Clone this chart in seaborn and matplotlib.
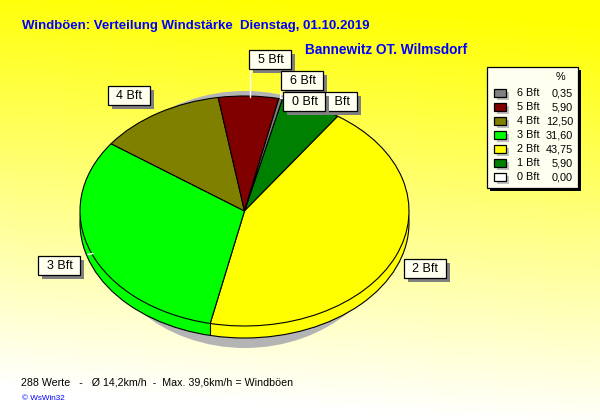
import matplotlib.pyplot as plt
import matplotlib.patches as mpatches
from matplotlib.transforms import Bbox, TransformedBbox
import numpy as np
import seaborn as sns

# values
bft_labels = ['0 Bft', '1 Bft', '2 Bft', '3 Bft', '4 Bft', '5 Bft', '6 Bft']
percent = [0.00, 5.90, 43.75, 31.60, 12.50, 5.90, 0.35]
bft_colors = ['#ffffff', '#008000', '#ffff00', '#00ff00', '#808000', '#800000', '#808080']

title = 'Windböen: Verteilung Windstärke  Dienstag, 01.10.2019'
station = 'Bannewitz OT. Wilmsdorf'
footer = '288 Werte   -   Ø 14,2km/h  -  Max. 39,6km/h = Windböen'
credit = '© WsWin32'

sns.set_theme(style='white')
plt.rcParams['font.family'] = ['Liberation Sans', 'DejaVu Sans']
palette = sns.color_palette(bft_colors)

W, H = 600, 420
fig = plt.figure(figsize=(W / 100, H / 100), dpi=100)

# background fade, yellow at the top to white at the bottom
bg = fig.add_axes([0, 0, 1, 1])
yy, xx = np.mgrid[0:1:210j, 0:1:300j]
fade = np.clip(yy * 1.03 - (xx - 0.5) * 0.1, 0, 1)
img = np.dstack([np.ones_like(fade), np.ones_like(fade), fade])
bg.imshow(img, extent=(0, W, H, 0), aspect='auto', interpolation='bilinear')
bg.set_xlim(0, W)
bg.set_ylim(H, 0)
bg.axis('off')
bg.add_patch(mpatches.Ellipse((245, 219.5), 300, 257, fc='#b4b4b4', ec='none'))

# pie, squashed into an ellipse
cx, cy, rx, ry = 244.5, 211, 164.5, 115
depth = 12
start = 76.7
pie_ax = fig.add_axes([(cx - rx) / W, 1 - (cy + ry) / H, 2 * rx / W, 2 * ry / H])

# rim: stacked copies without edges, then the lower outline
for d in range(depth, 0, -1):
    pie_ax.pie(percent, colors=palette, startangle=start, counterclock=False,
               center=(0, -d / ry),
               wedgeprops=dict(edgecolor='none', clip_on=False))
pie_ax.add_patch(mpatches.Ellipse((0, -depth / ry), 2, 2, fc='none', ec='black', lw=0.8, clip_on=False))

# vertical edge on the rim where 2 Bft meets 3 Bft
edge = np.radians(start - sum(percent[:3]) * 3.6)
pie_ax.plot([np.cos(edge)] * 2, [np.sin(edge), np.sin(edge) - depth / ry],
            color='black', lw=0.8, clip_on=False)

pie_ax.pie(percent, colors=palette, startangle=start, counterclock=False,
           wedgeprops=dict(edgecolor='black', linewidth=0.8, clip_on=False))
pie_ax.set_aspect('auto')
pie_ax.set_xlim(-1, 1)
pie_ax.set_ylim(-1, 1)

# everything else is placed in pixels
ov = fig.add_axes([0, 0, 1, 1])
ov.set_xlim(0, W)
ov.set_ylim(H, 0)
ov.axis('off')
ov.patch.set_alpha(0)

ov.text(22, 26.5, title, color='#0000ff', fontsize=9.55, fontweight='bold', va='center')
ov.text(305, 50, station, color='#0000ff', fontsize=9.8, fontweight='bold', va='center')
ov.text(21, 382.5, footer, color='black', fontsize=7.65, va='center')
ov.text(22, 398, credit, color='#0000ff', fontsize=5.9, va='center')

# white leader lines
for x0, y0, x1, y1 in [(249.5, 68, 249.5, 97), (281.5, 89, 280.5, 98), (283, 97.5, 280, 97.5),
                       (88, 254.5, 93, 253.5)]:
    ov.plot([x0, x1], [y0, y1], color='white', lw=1, zorder=2)

# callout boxes, 1 Bft sits under the 0 Bft box like in the original
boxes = {'4 Bft': (108, 86), '3 Bft': (38, 256), '2 Bft': (404, 259), '5 Bft': (249, 50),
         '6 Bft': (281, 71), '1 Bft': (315, 92), '0 Bft': (283, 92)}
z = 3
for lab, (x, y) in boxes.items():
    ov.add_patch(mpatches.Rectangle((x + 4, y + 4), 42, 19, fc='#808080', ec='none', zorder=z))
    ov.add_patch(mpatches.Rectangle((x, y), 42, 19, fc='#fffff0', ec='black', lw=0.9, zorder=z + 0.1))
    t = ov.text(x + 21.5, y + 10, lab, fontsize=9, color='black', ha='center', va='center', zorder=z + 0.2)
    if lab == '1 Bft':
        # only the part right of the 0 Bft shadow shows
        t.set_clip_box(TransformedBbox(Bbox([[332, 92], [357, 111]]), ov.transData))
        t.set_clip_on(True)
    z += 1

# legend table
z = 20
ov.add_patch(mpatches.Rectangle((490, 70), 91, 121, fc='black', ec='none', zorder=z))
ov.add_patch(mpatches.Rectangle((487, 67), 91, 121, fc='#fffff0', ec='black', lw=0.9, zorder=z + 1))
ov.text(560, 77, '%', fontsize=7.8, color='black', ha='center', va='center', zorder=z + 2)
row_y = 93
for lab, val, col in zip(bft_labels[::-1], percent[::-1], palette[::-1]):
    ov.add_patch(mpatches.Rectangle((497, row_y - 1), 12, 8, fc='#c0c0c0', ec='none', zorder=z + 1))
    ov.add_patch(mpatches.Rectangle((494, row_y - 4), 12, 8, fc=col, ec='black', lw=0.9, zorder=z + 2))
    ov.text(517, row_y, lab, fontsize=7.8, color='black', va='center', zorder=z + 2)
    ov.text(573, row_y, f'{val:.2f}'.replace('.', ','), fontsize=7.8, color='black',
            ha='right', va='center', zorder=z + 2)
    row_y += 14

fig.savefig('out.png', dpi=100)
